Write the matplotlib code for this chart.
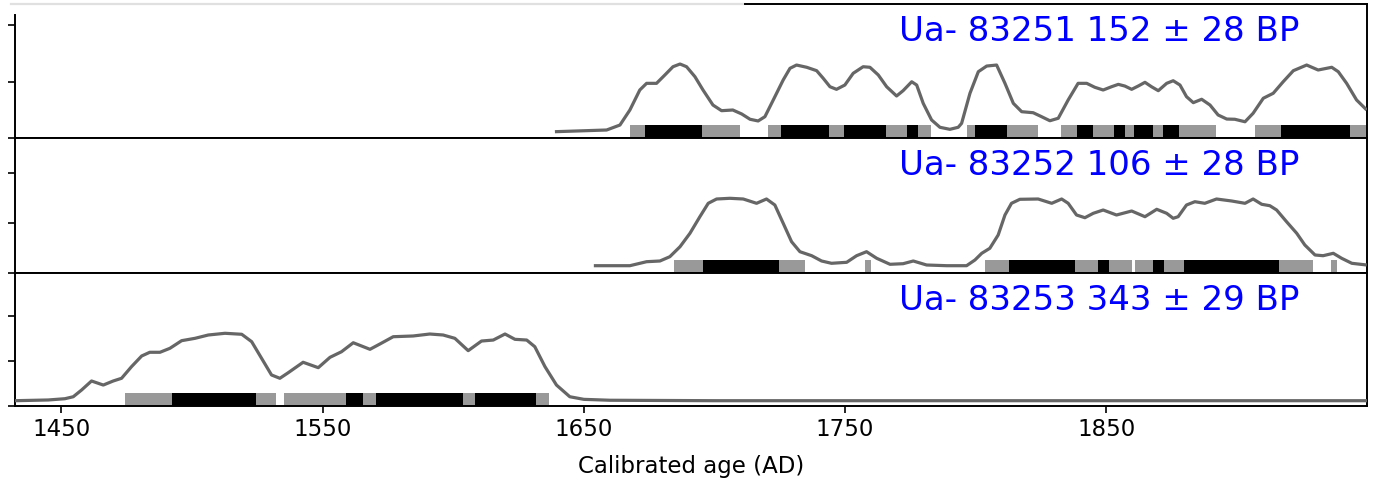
import matplotlib
matplotlib.use('Agg')
import matplotlib.pyplot as plt

# ---------------- data ----------------
labels = ['Ua- 83251 152 ± 28 BP', 'Ua- 83252 106 ± 28 BP', 'Ua- 83253 343 ± 29 BP']

years1 = [1638.9, 1658.7, 1663.8, 1667.6, 1671.4, 1674.0, 1677.8, 1681.0, 1684.1, 1686.8, 1689.3, 1692.5,
          1695.6, 1699.4, 1702.7, 1707.0, 1710.4, 1713.6, 1716.7, 1719.3, 1722.5, 1726.3, 1728.9, 1731.4,
          1735.3, 1739.1, 1741.6, 1744.2, 1746.7, 1749.9, 1753.1, 1756.9, 1759.5, 1762.7, 1765.9, 1769.7,
          1772.2, 1775.5, 1777.4, 1779.9, 1783.1, 1786.3, 1790.1, 1793.3, 1794.6, 1797.8, 1801.0, 1804.2,
          1808.0, 1811.2, 1814.4, 1817.6, 1822.0, 1825.2, 1828.4, 1831.6, 1835.4, 1839.2, 1842.5, 1845.6,
          1848.8, 1852.0, 1854.6, 1857.1, 1859.7, 1862.2, 1864.8, 1867.3, 1869.9, 1873.1, 1875.6, 1878.2,
          1880.7, 1883.3, 1886.5, 1889.7, 1892.8, 1896.1, 1899.2, 1903.1, 1906.2, 1910.1, 1913.9, 1917.7,
          1921.6, 1926.7, 1931.1, 1936.3, 1938.8, 1942.0, 1945.8, 1949.7]
prob1 = [0, 0.15, 0.59, 1.92, 3.69, 4.28, 4.28, 5.02, 5.75, 5.99, 5.75, 4.87,
         3.69, 2.36, 1.86, 1.92, 1.57, 1.10, 0.95, 1.33, 2.81, 4.58, 5.61, 5.90,
         5.70, 5.40, 4.73, 3.98, 3.75, 4.13, 5.17, 5.75, 5.70, 5.02, 3.98, 3.16,
         3.63, 4.42, 4.13, 2.51, 1.04, 0.39, 0.21, 0.39, 0.74, 3.40, 5.31, 5.81,
         5.90, 4.28, 2.51, 1.77, 1.68, 1.33, 0.97, 1.19, 2.81, 4.28, 4.28, 3.93,
         3.69, 3.98, 4.19, 4.04, 3.75, 4.04, 4.37, 3.98, 3.63, 4.28, 4.51, 4.13,
         3.10, 2.57, 2.87, 2.36, 1.48, 1.12, 1.10, 0.88, 1.63, 2.96, 3.40, 4.42,
         5.40, 5.90, 5.46, 5.70, 5.31, 4.28, 2.81, 1.92]

years2 = [1653.8, 1667.6, 1674.0, 1679.1, 1682.9, 1686.8, 1690.6, 1694.4, 1697.6, 1700.8, 1705.9, 1711.0,
          1716.1, 1719.9, 1723.1, 1726.3, 1729.5, 1732.7, 1737.2, 1741.0, 1744.8, 1750.6, 1754.4, 1758.2,
          1762.1, 1767.2, 1772.2, 1776.1, 1781.2, 1788.9, 1796.5, 1799.7, 1802.3, 1805.4, 1808.6, 1811.2,
          1813.7, 1816.9, 1823.9, 1829.1, 1832.9, 1835.4, 1838.6, 1841.8, 1845.0, 1848.8, 1853.9, 1859.7,
          1864.8, 1869.3, 1873.1, 1875.6, 1877.5, 1880.7, 1883.9, 1887.7, 1892.2, 1898.0, 1903.1, 1906.2,
          1909.5, 1912.6, 1915.2, 1919.0, 1922.9, 1926.0, 1929.9, 1933.0, 1936.9, 1940.1, 1944.0, 1949.7]
prob2 = [0, 0, 0.40, 0.47, 0.90, 1.90, 3.24, 4.90, 6.24, 6.67, 6.74, 6.67,
         6.24, 6.67, 6.07, 4.24, 2.40, 1.40, 1.00, 0.47, 0.24, 0.34, 1.00, 1.40,
         0.74, 0.14, 0.20, 0.47, 0.07, 0, 0, 0.57, 1.24, 1.74, 3.07, 5.07,
         6.24, 6.64, 6.67, 6.24, 6.67, 6.24, 5.07, 4.80, 5.24, 5.57, 5.07, 5.47,
         4.90, 5.64, 5.24, 4.74, 4.90, 6.07, 6.40, 6.24, 6.67, 6.47, 6.24, 6.67,
         6.14, 6.00, 5.57, 4.40, 3.24, 2.07, 1.07, 1.00, 1.24, 0.74, 0.24, 0.07]

years3 = [1432.2, 1444.9, 1451.3, 1454.5, 1457.7, 1461.5, 1466.0, 1469.8, 1473.0, 1476.8, 1480.7, 1483.8,
          1487.7, 1491.5, 1496.0, 1501.1, 1506.2, 1512.6, 1519.0, 1522.8, 1526.6, 1530.4, 1533.6, 1536.8,
          1542.5, 1548.3, 1552.8, 1557.2, 1561.7, 1568.1, 1571.9, 1577.0, 1584.6, 1591.0, 1596.1, 1600.6,
          1605.7, 1610.8, 1615.3, 1619.8, 1623.6, 1628.1, 1631.2, 1635.1, 1639.5, 1644.6, 1650.0, 1660.0,
          1700.0, 1949.8]
prob3 = [0, 0.08, 0.22, 0.44, 1.19, 2.19, 1.74, 2.19, 2.49, 3.78, 4.97, 5.38,
         5.38, 5.82, 6.67, 6.93, 7.30, 7.49, 7.38, 6.56, 4.71, 2.86, 2.49, 3.11,
         4.27, 3.67, 4.82, 5.44, 6.44, 5.71, 6.30, 7.11, 7.19, 7.41, 7.30, 6.93,
         5.56, 6.63, 6.74, 7.41, 6.82, 6.74, 6.00, 3.78, 1.74, 0.44, 0.15, 0.05,
         0.0, 0.0]

# 95.4 % ranges (grey) and 68.2 % ranges (black)
r95_1 = [(1667.6, 1709.7), (1720.6, 1782.7), (1796.5, 1823.7), (1832.6, 1891.9), (1906.9, 1950.0)]
r68_1 = [(1673.3, 1695.4), (1725.4, 1743.7), (1749.5, 1765.6), (1773.8, 1778.0), (1799.7, 1811.8),
         (1838.9, 1844.8), (1852.9, 1857.1), (1860.6, 1867.9), (1871.7, 1877.8), (1916.8, 1943.3)]
r95_2 = [(1684.5, 1734.6), (1757.6, 1759.9), (1803.5, 1859.9), (1860.9, 1929.0), (1936.0, 1938.2)]
r68_2 = [(1695.7, 1724.7), (1812.7, 1838.0), (1846.9, 1851.0), (1867.7, 1872.0), (1879.7, 1916.1)]
r95_3 = [(1474.3, 1532.3), (1535.3, 1636.6)]
r68_3 = [(1492.2, 1524.3), (1559.1, 1565.3), (1570.4, 1603.8), (1608.3, 1631.6)]

xticks = [1450, 1550, 1650, 1750, 1850]
yticks = [0, 5, 10]
xlabel = 'Calibrated age (AD)'

# ---------------- layout / style ----------------
W, H = 1375, 484
fig = plt.figure(figsize=(W / 100, H / 100), dpi=100)

panels_px = [(4, 138), (138, 273), (273, 406)]
ppu = [11.3, 10.0, 9.0]
curve_off_px = [6.3, 7.3, 5.3]
bar_h_px = 12.6
x_left, x_right = 15, 1367
xlim = (1432.2, 1949.8)

curve_color = '#666666'
grey_bar = '#999999'

series = [(years1, prob1, r95_1, r68_1), (years2, prob2, r95_2, r68_2), (years3, prob3, r95_3, r68_3)]

axes = []
for i, ((top, bot), (yrs, pr, r95, r68)) in enumerate(zip(panels_px, series)):
    ax = fig.add_axes([x_left / W, (H - bot) / H, (x_right - x_left) / W, (bot - top) / H])
    axes.append(ax)
    ax.set_xlim(*xlim)
    ax.set_ylim(0, (bot - top) / ppu[i])
    off = curve_off_px[i] / ppu[i]
    bh = bar_h_px / ppu[i]
    ax.broken_barh([(a, b - a) for a, b in r95], (0, bh), facecolors=grey_bar, edgecolor='none', zorder=2)
    ax.broken_barh([(a, b - a) for a, b in r68], (0, bh), facecolors='black', edgecolor='none', zorder=3)
    ax.plot(yrs, [p + off for p in pr], color=curve_color, lw=2.3, zorder=4,
            solid_joinstyle='round', solid_capstyle='butt')
    ax.set_yticks(yticks)
    ax.set_yticklabels([])
    ax.tick_params(axis='y', direction='out', length=5, width=1.2)
    ax.annotate(labels[i], xy=(0.95, 1.0), xycoords='axes fraction', xytext=(0, -8.0),
                textcoords='offset points', ha='right', va='top', color='#0000ff', fontsize=24.5,
                zorder=6)
    for s in ax.spines.values():
        s.set_linewidth(1.4)
    ax.set_xticks(xticks)
    if i < 2:
        ax.tick_params(axis='x', length=0, labelbottom=False)
    else:
        ax.tick_params(axis='x', direction='out', length=5, width=1.2, labelsize=16.5, pad=4)
        ax.set_xlabel(xlabel, fontsize=16.5, labelpad=10)

ax1 = axes[0]
ax1.spines['top'].set_visible(False)
ax1.spines['left'].set_bounds(0, (138 - 15) / ppu[0])
split = (745 - x_left) / (x_right - x_left)
ax1.plot([-0.003, split], [1, 1], transform=ax1.transAxes, color='#e0e0e0', lw=1.6, clip_on=False)
ax1.plot([split, 1.0], [1, 1], transform=ax1.transAxes, color='black', lw=1.4, clip_on=False)

fig.savefig('out.png', dpi=100)
